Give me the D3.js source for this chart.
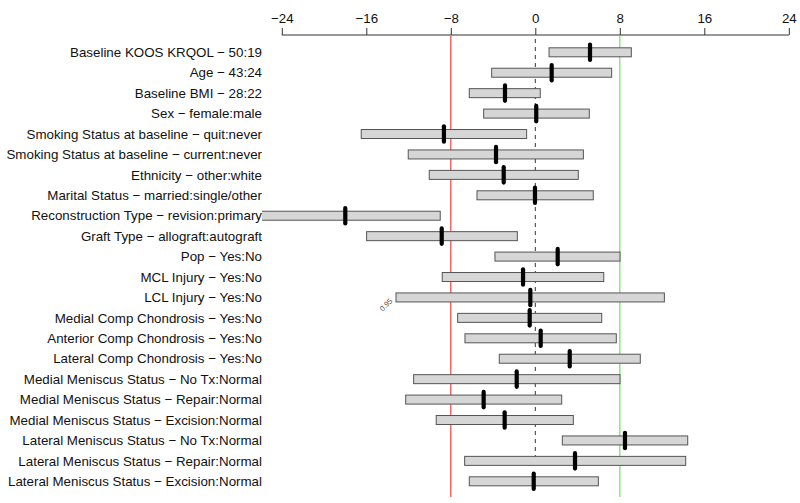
<!DOCTYPE html>
<html><head><meta charset="utf-8">
<script src="https://cdn.jsdelivr.net/npm/d3@7"></script>
<style>body{margin:0;background:#fff}svg{display:block}</style>
</head><body>
<script>
const labels = [
"Baseline KOOS KRQOL \u2212 50:19","Age \u2212 43:24","Baseline BMI \u2212 28:22","Sex \u2212 female:male",
"Smoking Status at baseline \u2212 quit:never","Smoking Status at baseline \u2212 current:never",
"Ethnicity \u2212 other:white","Marital Status \u2212 married:single/other",
"Reconstruction Type \u2212 revision:primary","Graft Type \u2212 allograft:autograft",
"Pop \u2212 Yes:No","MCL Injury \u2212 Yes:No","LCL Injury \u2212 Yes:No",
"Medial Comp Chondrosis \u2212 Yes:No","Anterior Comp Chondrosis \u2212 Yes:No","Lateral Comp Chondrosis \u2212 Yes:No",
"Medial Meniscus Status \u2212 No Tx:Normal","Medial Meniscus Status \u2212 Repair:Normal","Medial Meniscus Status \u2212 Excision:Normal",
"Lateral Meniscus Status \u2212 No Tx:Normal","Lateral Meniscus Status \u2212 Repair:Normal","Lateral Meniscus Status \u2212 Excision:Normal"];
const estimate = [5.18,1.55,-2.87,0.09,-8.65,-3.72,-2.99,-0.03,-17.99,-8.86,2.12,-1.16,-0.47,-0.53,0.51,3.26,-1.76,-4.89,-2.90,8.49,3.76,-0.15];
const lower = [1.30,-4.13,-6.25,-4.89,-16.48,-12.03,-10.04,-5.52,-27,-15.97,-3.82,-8.81,-13.19,-7.35,-6.66,-3.41,-11.52,-12.27,-9.38,2.56,-6.69,-6.25];
const upper = [9.09,7.23,0.47,5.11,-0.82,4.55,4.07,5.49,-9.0,-1.70,8.02,6.48,12.22,6.29,7.67,9.94,8.02,2.5,3.6,14.43,14.24,5.97];
const ticks = [-24,-16,-8,0,8,16,24];
const refLow = -8, refHigh = 8;
const confLabel = "0.95";

const W=800,H=503;
const FONT="Liberation Sans, Arial, sans-serif";
const svg=d3.select("body").append("svg").attr("width",W).attr("height",H);
const x=d3.scaleLinear().domain([-24,24]).range([281.8,788.8]);
const y=d3.scalePoint().domain(labels).range([52.3,481.3]);

svg.append("defs").append("clipPath").attr("id","pc").append("rect")
  .attr("x",262).attr("y",36).attr("width",W-262).attr("height",H-36);

// top axis
const ax=svg.append("g").attr("transform","translate(0,35)")
  .call(d3.axisTop(x).tickValues(ticks).tickSize(7).tickPadding(5)
    .tickFormat(d=>d<0?"\u2212"+Math.abs(d):String(d)));
ax.select(".domain").attr("stroke","#333").attr("d",`M${x(-24)},0H${x(24)}`);
ax.selectAll(".tick line").attr("stroke","#333");
ax.selectAll(".tick text").attr("font-family",FONT).attr("font-size",13.3).attr("fill","#111");

// zero dashed line
svg.append("line").attr("x1",x(0)).attr("x2",x(0)).attr("y1",39).attr("y2",y(labels[20]))
  .attr("stroke","#333").attr("stroke-dasharray","4,4");

// reference lines
svg.append("line").attr("x1",x(refLow)).attr("x2",x(refLow)).attr("y1",36).attr("y2",497).attr("stroke","#ee4444").attr("stroke-width",1.2);
svg.append("line").attr("x1",x(refHigh)).attr("x2",x(refHigh)).attr("y1",36).attr("y2",497).attr("stroke","#88e47a").attr("stroke-width",1.4);

const g=svg.append("g").attr("clip-path","url(#pc)");
g.selectAll("rect.bar").data(labels).join("rect").attr("class","bar")
  .attr("x",(d,i)=>x(lower[i])).attr("width",(d,i)=>x(upper[i])-x(lower[i]))
  .attr("y",d=>y(d)-4.5).attr("height",9)
  .attr("fill","#d6d6d6").attr("stroke","#555").attr("stroke-width",1);
g.selectAll("line.est").data(labels).join("line").attr("class","est")
  .attr("x1",(d,i)=>x(estimate[i])).attr("x2",(d,i)=>x(estimate[i]))
  .attr("y1",d=>y(d)-7.7).attr("y2",d=>y(d)+7.7)
  .attr("stroke","#000").attr("stroke-width",4.2).attr("stroke-linecap","round");

// labels
svg.selectAll("text.lab").data(labels).join("text").attr("class","lab")
  .attr("x",262).attr("y",d=>y(d)).attr("dy","0.35em").attr("text-anchor","end")
  .attr("font-family",FONT).attr("font-size",13.35).attr("fill","#111")
  .text(d=>d);

// confidence level label
const li=12;
svg.append("text").attr("transform",`translate(${x(lower[li])-3},${y(labels[li])+4}) rotate(-45)`)
  .attr("text-anchor","end").attr("font-family",FONT).attr("font-size",7.5).attr("fill","#555")
  .text(confLabel);
</script>
</body></html>
